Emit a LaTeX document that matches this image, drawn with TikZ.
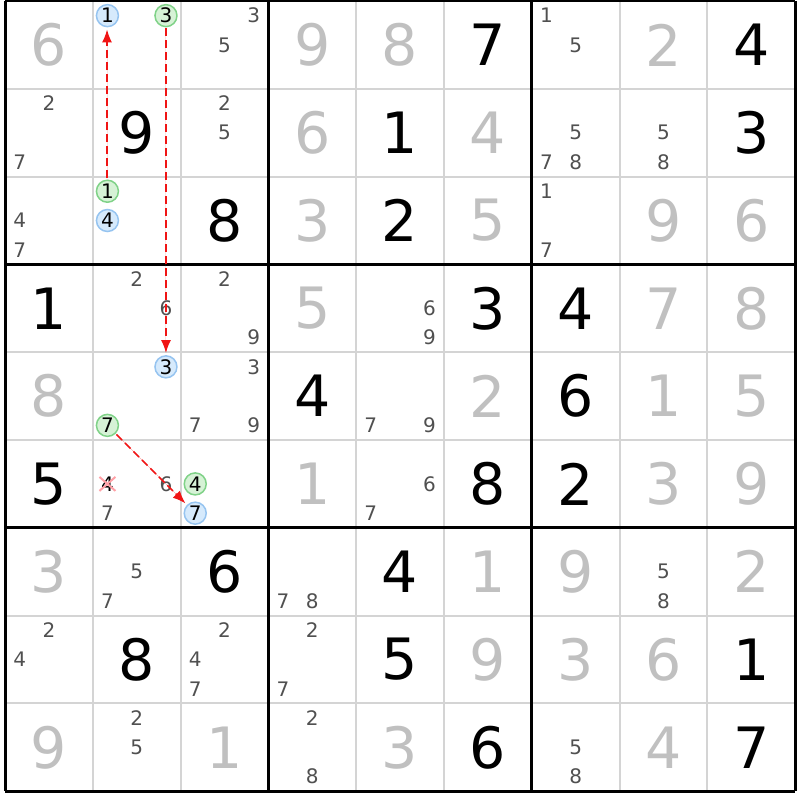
\documentclass[tikz,border=0pt]{standalone}
\usepackage{fontspec}
\setmainfont{DejaVu Sans}
\usetikzlibrary{arrows.meta}

\definecolor{solvedgray}{RGB}{192,192,192}
\definecolor{candgray}{RGB}{80,80,80}
\definecolor{thingray}{RGB}{212,212,212}
\definecolor{linkred}{RGB}{240,20,20}
\definecolor{bluefill}{RGB}{214,234,252}
\definecolor{blueline}{RGB}{150,196,240}
\definecolor{greenfill}{RGB}{214,242,214}
\definecolor{greenline}{RGB}{128,210,136}
\definecolor{strikered}{RGB}{255,160,166}

\newcommand{\cs}{87.8}

\begin{document}
\begin{tikzpicture}[x=1pt,y=-1pt,
  big/.style={font=\fontsize{57}{57}\selectfont,inner sep=0pt},
  given/.style={big,text=black},
  solved/.style={big,text=solvedgray},
  cand/.style={font=\fontsize{20}{20}\selectfont,text=candgray,inner sep=0pt},
  ring/.style={cand,text=black,circle,draw=#1line,fill=#1fill,line width=1.5pt,minimum size=22pt},
  link/.style={-{Latex[length=13pt,width=10pt]},draw=linkred,fill=linkred,line width=1.6pt,
    dash pattern=on 8pt off 4pt,shorten >=2pt,shorten <=1pt},
  strike/.style={strikered,line width=2pt}]

  \useasboundingbox (0,0) rectangle (800,800);

  % grid
  \foreach \i in {1,2,4,5,7,8} {
    \draw[thingray,line width=2pt] ({5+\cs*\i},1) -- ({5+\cs*\i},{1+9*\cs});
    \draw[thingray,line width=2pt] (5,{1+\cs*\i}) -- ({5+9*\cs},{1+\cs*\i});
  }
  \foreach \i in {0,3,6,9} {
    \draw[black,line width=3pt] ({5+\cs*\i},1) -- ({5+\cs*\i},{1+9*\cs});
    \draw[black,line width=3pt] (5,{1+\cs*\i}) -- ({5+9*\cs},{1+\cs*\i});
  }

  % givens
  \foreach \r/\c/\d in {0/5/7,0/8/4,1/1/9,1/4/1,1/8/3,2/2/8,2/4/2,3/0/1,3/5/3,3/6/4,
      4/3/4,4/6/6,5/0/5,5/5/8,5/6/2,6/2/6,6/4/4,7/1/8,7/4/5,7/8/1,8/5/6,8/8/7}
    \node[given] (v\r\c) at ({5+\cs*(\c+.5)},{1+\cs*(\r+.5)}) {\d};

  % solved cells
  \foreach \r/\c/\d in {0/0/6,0/3/9,0/4/8,0/7/2,1/3/6,1/5/4,2/3/3,2/5/5,2/7/9,2/8/6,
      3/3/5,3/7/7,3/8/8,4/0/8,4/5/2,4/7/1,4/8/5,5/3/1,5/7/3,5/8/9,6/0/3,6/5/1,6/6/9,
      6/8/2,7/5/9,7/6/3,7/7/6,8/0/9,8/2/1,8/4/3,8/7/4}
    \node[solved] (v\r\c) at ({5+\cs*(\c+.5)},{1+\cs*(\r+.5)}) {\d};

  % candidates
  \foreach \r/\c/\list in {0/2/{3,5},0/6/{1,5},1/0/{2,7},1/2/{2,5},1/6/{5,7,8},1/7/{5,8},
      2/0/{4,7},2/6/{1,7},3/1/{2,6},3/2/{2,9},3/4/{6,9},4/2/{3,7,9},4/4/{7,9},5/1/{6,7},
      5/4/{6,7},6/1/{5,7},6/3/{7,8},6/7/{5,8},7/0/{2,4},7/2/{2,4,7},7/3/{2,7},8/1/{2,5},
      8/3/{2,8},8/6/{5,8}}
    \foreach \n in \list
      \node[cand] (k\r\c\n) at ({5+\cs*(\c+.5)+\cs/3*(mod(\n-1,3)-1)},
        {1+\cs*(\r+.5)+\cs/3*(div(\n-1,3)-1)}) {\n};

  % chain
  \foreach \r/\c/\n/\s in {0/1/1/blue,0/1/3/green,2/1/1/green,2/1/4/blue,
      4/1/3/blue,4/1/7/green,5/2/4/green,5/2/7/blue}
    \node[ring=\s] (k\r\c\n) at ({5+\cs*(\c+.5)+\cs/3*(mod(\n-1,3)-1)},
      {1+\cs*(\r+.5)+\cs/3*(div(\n-1,3)-1)}) {\n};

  \node[cand,text=black] (k514) at ({5+\cs*1.5-\cs/3},{1+\cs*5.5}) {4};
  \draw[strike] (k514.center) ++(-8,-7) -- ++(16,14);
  \draw[strike] (k514.center) ++(8,-7) -- ++(-16,14);

  \draw[link] ([xshift=-0.4pt]k211.north) -- ([xshift=-0.4pt]k011.south);
  \draw[link] (k013) -- (k413);
  \draw[link] (k417) -- (k527);
\end{tikzpicture}
\end{document}
